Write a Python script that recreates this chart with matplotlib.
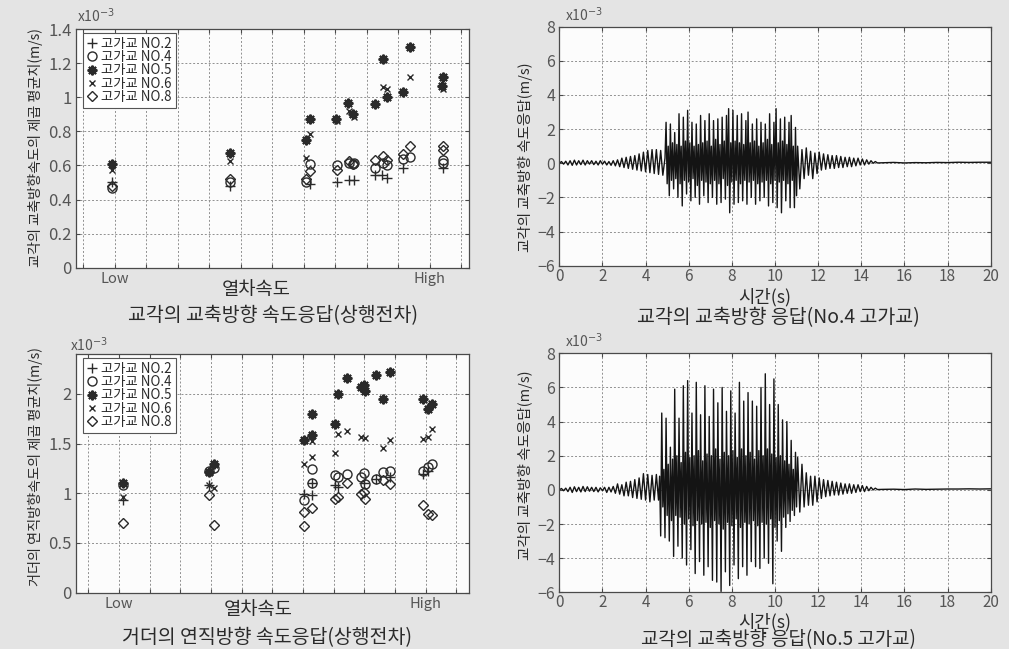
import numpy as np
import matplotlib
matplotlib.use('Agg')
import matplotlib.pyplot as plt

plt.rcParams['font.family'] = ['Noto Sans CJK KR', 'DejaVu Sans']

# ---------------- data ----------------
series_labels = ['고가교 NO.2', '고가교 NO.4', '고가교 NO.5', '고가교 NO.6', '고가교 NO.8']
speed_ticks = list(range(13))
speed_ticklabels = ['', 'Low', '', '', '', '', '', '', '', '', '', 'High', '']

# top-left: pier longitudinal RMS velocity (x1e-3 m/s)
pier_no2_x = [0.9, 4.65, 7.2, 8.04, 8.42, 8.58, 9.25, 9.48, 9.63, 10.15, 11.4]
pier_no2_y = [0.50, 0.478, 0.49, 0.505, 0.514, 0.514, 0.545, 0.543, 0.525, 0.585, 0.585]
pier_no4_x = [0.9, 4.65, 7.06, 7.2, 8.04, 8.42, 8.55, 8.6, 9.25, 9.5, 9.63, 10.15, 10.36, 11.4, 11.42]
pier_no4_y = [0.465, 0.505, 0.505, 0.606, 0.60, 0.615, 0.61, 0.612, 0.585, 0.615, 0.603, 0.64, 0.65, 0.63, 0.615]
pier_no5_x = [0.9, 4.65, 7.06, 7.2, 8.03, 8.4, 8.55, 9.25, 9.51, 9.64, 10.15, 10.36, 11.4, 11.38]
pier_no5_y = [0.607, 0.67, 0.749, 0.87, 0.87, 0.964, 0.901, 0.96, 1.224, 1.003, 1.028, 1.292, 1.12, 1.065]
pier_no6_x = [0.9, 4.65, 7.06, 7.2, 8.04, 8.42, 8.54, 8.6, 9.51, 9.64, 10.36, 11.4]
pier_no6_y = [0.575, 0.627, 0.645, 0.782, 0.862, 0.921, 0.90, 0.885, 1.058, 1.05, 1.116, 1.05]
pier_no8_x = [0.9, 4.65, 7.06, 7.2, 8.04, 8.42, 8.55, 9.25, 9.5, 9.63, 10.15, 10.36, 11.4, 11.4]
pier_no8_y = [0.48, 0.518, 0.52, 0.567, 0.575, 0.625, 0.61, 0.63, 0.655, 0.63, 0.665, 0.713, 0.715, 0.69]

# bottom-left: girder vertical RMS velocity (x1e-3 m/s)
girder_no2_x = [1.14, 3.95, 7.03, 7.28, 7.28, 8.04, 8.15, 8.99, 9.37, 9.82, 10.9, 11.09]
girder_no2_y = [0.93, 1.08, 0.997, 1.104, 0.98, 1.08, 1.06, 1.10, 1.14, 1.16, 1.19, 1.22]
girder_no4_x = [1.14, 3.95, 4.10, 7.03, 7.28, 7.28, 8.04, 8.15, 8.42, 8.88, 8.99, 9.02, 9.37, 9.60, 9.82, 10.9, 11.09, 11.2]
girder_no4_y = [1.087, 1.22, 1.254, 0.93, 1.24, 1.104, 1.18, 1.165, 1.19, 1.164, 1.20, 1.097, 1.147, 1.214, 1.22, 1.224, 1.264, 1.298]
girder_no5_x = [1.14, 3.95, 4.10, 7.03, 7.28, 7.28, 8.04, 8.15, 8.42, 8.88, 8.99, 9.02, 9.37, 9.60, 9.82, 10.9, 11.09, 11.2]
girder_no5_y = [1.107, 1.214, 1.298, 1.532, 1.80, 1.582, 1.70, 2.0, 2.16, 2.067, 2.09, 2.03, 2.184, 1.943, 2.217, 1.95, 1.85, 1.90]
girder_no6_x = [1.14, 3.95, 4.10, 7.03, 7.28, 7.28, 8.04, 8.15, 8.42, 8.88, 9.02, 9.60, 9.82, 10.9, 11.09, 11.2]
girder_no6_y = [0.963, 1.087, 1.054, 1.298, 1.53, 1.365, 1.405, 1.60, 1.63, 1.565, 1.555, 1.455, 1.532, 1.55, 1.565, 1.65]
girder_no8_x = [1.14, 3.95, 4.10, 7.03, 7.03, 7.28, 8.04, 8.15, 8.42, 8.88, 8.99, 9.02, 9.60, 9.82, 10.9, 11.09, 11.2]
girder_no8_y = [0.696, 0.987, 0.679, 0.813, 0.672, 0.853, 0.947, 0.963, 1.107, 0.997, 1.013, 0.946, 1.13, 1.097, 0.88, 0.796, 0.786]

# top-right: No.4 pier response (x1e-3 m/s), read as successive extrema
resp4_a = [0.0, 0.1, -0.05, 0.12, -0.1, 0.15, -0.12, 0.18, -0.1, 0.15,
           -0.08, 0.18, -0.1, 0.15, -0.05, 0.15, -0.08, 0.12, -0.1, 0.15,
           -0.05, 0.12, -0.1, 0.1, -0.12, 0.15, -0.15, 0.2, -0.2, 0.3,
           -0.25, 0.35, -0.3, 0.4, -0.35, 0.45, -0.4, 0.55, -0.45, 0.65,
           -0.5, 0.75, -0.55, 0.8, -0.6, 0.8, -0.65, 0.75, -0.7, 0.3]
resp4_b = [2.4, -1.2, 1.0, -1.9, 2.3, -1.0, 1.2, -1.5, 1.8, -0.9,
           1.1, -2.0, 2.9, -1.2, 1.0, -2.5, 2.7, -1.0, 1.3, -1.8,
           3.1, -1.1, 1.2, -2.2, 2.4, -0.9, 1.0, -2.0, 2.3, -1.3,
           1.1, -2.4, 2.8, -1.0, 1.2, -1.9, 2.5, -1.1, 1.3, -2.3,
           2.9, -1.2, 1.0, -2.0, 2.5, -1.0, 1.4, -2.4, 2.6, -1.2,
           1.1, -2.3, 2.7, -0.9, 1.3, -2.1, 2.8, -1.3, 3.2, -2.9,
           1.2, -1.1, 3.1, -2.4, 1.3, -1.0, 2.8, -2.3, 1.2, -1.2,
           2.9, -2.2, 1.1, -1.0, 2.5, -2.4, 3.0, -1.1, 1.2, -2.0,
           2.3, -1.0, 1.3, -2.4, 2.6, -1.2, 1.0, -2.2, 2.4, -1.1,
           1.2, -2.0, 2.3, -1.0, 1.4, -2.5, 2.9, -1.2, 1.1, -2.3,
           2.4, -1.0, 3.2, -2.6, 1.2, -1.1, 2.6, -2.9, 1.3, -1.0,
           2.7, -2.2, 1.1, -1.2, 2.4, -2.6, 2.8, -1.0, 1.0, -2.6,
           2.1, -1.9]
resp4_c = [1.0, -1.5, 0.8, -0.9, 0.9, -0.7, 0.7, -0.9, 0.6, -0.6,
           0.65, -0.4, 0.55, -0.35, 0.5, -0.3, 0.45, -0.3, 0.45, -0.25,
           0.4, -0.25, 0.35, -0.2, 0.35, -0.2, 0.3, -0.15, 0.3, -0.1,
           0.25, -0.1, 0.2, -0.05, 0.15, 0.0, 0.1, 0.02]
resp4_d = [0.03, 0.05, 0.02, 0.04, 0.03, 0.05, 0.04, 0.06, 0.05, 0.06, 0.06]

# bottom-right: No.5 pier response (x1e-3 m/s)
resp5_a = [0.0, 0.08, -0.05, 0.1, -0.1, 0.15, -0.15, 0.18, -0.1, 0.15,
           -0.12, 0.2, -0.1, 0.18, -0.08, 0.15, -0.1, 0.15, -0.12, 0.12,
           -0.05, 0.15, -0.15, 0.15, -0.12,
           0.2, -0.2, 0.35, -0.25, 0.3, -0.35, 0.45, -0.35, 0.5, -0.45,
           0.6, -0.5, 0.7, -0.55, 0.95, -0.6, 0.9, -0.7, 0.85, -0.6, 0.9, -0.6]
resp5_b = [0.8, -2.7, 4.5, -1.0, 1.2, -2.8, 4.2, -1.5, 1.5, -3.0, 2.5, -1.8,
           1.8, -3.9, 5.9, -1.5, 2.0, -3.3, 4.2, -1.6, 1.6, -4.0, 6.1, -2.0,
           2.2, -4.4, 6.4, -1.7, 1.9, -3.5, 4.5, -2.1, 2.0, -4.9, 6.3, -1.8,
           2.3, -4.2, 4.4, -2.0, 1.7, -5.0, 6.1, -1.9, 2.1, -4.5, 4.3, -2.2,
           2.0, -5.3, 5.9, -1.8, 2.4, -5.4, 5.1, -2.0, 1.8, -5.95, 6.0, -2.3,
           2.2, -4.8, 4.6, -1.9, 2.0, -5.6, 5.8, -2.1, 2.3, -4.4, 4.5, -1.7,
           1.9, -5.2, 6.3, -2.2, 2.4, -4.5, 5.2, -1.9, 2.0, -5.0, 5.7, -2.0,
           2.2, -4.2, 5.2, -1.8, 1.8, -4.5, 4.9, -2.1, 2.3, -4.6, 6.0, -1.9,
           2.0, -4.0, 6.8, -2.0, 2.4, -4.3, 5.0, -1.7, 2.1, -5.5, 6.5, -2.2,
           1.9, -3.0, 5.0, -1.8, 2.0, -3.6, 4.1, -1.6, 1.7, -2.2, 4.0, -1.4,
           1.5, -1.85, 2.9, -1.2, 1.2, -1.5, 2.2, -1.0]
resp5_c = [1.9, -1.3, 1.5, -1.0, 1.0, -0.9, 0.8, -0.9, 0.8, -0.7,
           0.7, -0.5, 0.6, -0.4, 0.55, -0.35, 0.5, -0.3, 0.45, -0.3,
           0.4, -0.25, 0.35, -0.2, 0.35, -0.2, 0.3, -0.15, 0.3, -0.1,
           0.25, -0.1, 0.2, -0.05, 0.15, 0.0, 0.1, 0.02]
resp5_d = [0.03, 0.04, 0.02, 0.05, 0.03, 0.04, 0.05, 0.05, 0.06, 0.05, 0.06]

# sampling of the extrema segments: (start time, step)
seg_timing_4 = [(0.0, 0.1), (4.95, 0.05), (11.05, 0.1), (15.0, 0.5)]
seg_timing_5 = [(0.0, 0.1), (4.65, 0.05), (11.05, 0.1), (15.0, 0.5)]


def build(segs, timing):
    ts, vs = [], []
    for vals, (t0, dt) in zip(segs, timing):
        ts.append(t0 + dt * np.arange(len(vals)))
        vs.append(np.asarray(vals))
    return np.concatenate(ts), np.concatenate(vs)


t4, v4 = build([resp4_a, resp4_b, resp4_c, resp4_d], seg_timing_4)
t5, v5 = build([resp5_a, resp5_b, resp5_c, resp5_d], seg_timing_5)

# ---------------- figure ----------------
W, H = 1009, 649
BG = '#e4e4e4'
INK = '#2a2a2a'
fig = plt.figure(figsize=(W / 100, H / 100), dpi=100, facecolor=BG)


def px_rect(l, t, r, b):
    return [l / W, 1 - b / H, (r - l) / W, (b - t) / H]


def ftext(x, y, s, **kw):
    kw.setdefault('color', INK)
    fig.text(x / W, 1 - y / H, s, **kw)


def style(ax, labelsize):
    ax.set_facecolor('#fcfcfc')
    for sp in ax.spines.values():
        sp.set_color('#4a4a4a')
        sp.set_linewidth(0.9)
    ax.grid(True, color='#909090', linestyle=(0, (2, 2)), linewidth=0.7)
    ax.set_axisbelow(True)
    ax.tick_params(direction='in', length=3, top=True, right=True,
                   colors='#4a4a4a', labelcolor='#555555', labelsize=labelsize, pad=3)


ax_tl = fig.add_axes(px_rect(76, 29, 469, 267.7))
ax_tr = fig.add_axes(px_rect(559.3, 26.7, 990.7, 265.7))
ax_bl = fig.add_axes(px_rect(76, 354, 469.3, 592.7))
ax_br = fig.add_axes(px_rect(559.3, 353.3, 990.7, 592.3))

marker_styles = [
    dict(marker='+', ms=7, mew=1.0),
    dict(marker='o', ms=6.5, mew=1.0, mfc='none'),
    dict(marker=(8, 2, 0), ms=7, mew=1.5),
    dict(marker='x', ms=4.5, mew=1.0),
    dict(marker='D', ms=5.2, mew=1.0, mfc='none'),
]

pier_sets = [(pier_no2_x, pier_no2_y), (pier_no4_x, pier_no4_y), (pier_no5_x, pier_no5_y),
             (pier_no6_x, pier_no6_y), (pier_no8_x, pier_no8_y)]
girder_sets = [(girder_no2_x, girder_no2_y), (girder_no4_x, girder_no4_y), (girder_no5_x, girder_no5_y),
               (girder_no6_x, girder_no6_y), (girder_no8_x, girder_no8_y)]

for ax, sets, xlim, ylim, yticks, yticklabels in [
    (ax_tl, pier_sets, (-0.23, 12.24), (0, 1.4), np.arange(0, 1.41, 0.2),
     ['0', '0.2', '0.4', '0.6', '0.8', '1', '1.2', '1.4']),
    (ax_bl, girder_sets, (-0.4, 12.42), (0, 2.4), [0, 0.5, 1, 1.5, 2],
     ['0', '0.5', '1', '1.5', '2'])]:
    style(ax, 12)
    for (xs, ys), lab, st in zip(sets, series_labels, marker_styles):
        ax.plot(xs, ys, linestyle='none', color=INK, label=lab, **st)
    ax.set_xlim(*xlim)
    ax.set_ylim(*ylim)
    ax.set_xticks(speed_ticks)
    ax.set_xticklabels(speed_ticklabels)
    ax.set_yticks(yticks)
    ax.set_yticklabels(yticklabels)
    ax.tick_params(axis='x', labelsize=10.5, pad=3)
    leg = ax.legend(loc='upper left', bbox_to_anchor=(0.018, 0.985), borderaxespad=0,
                    frameon=True, fancybox=False, edgecolor='#555555', framealpha=1,
                    fontsize=9.6, handlelength=0.8, handletextpad=0.25, labelspacing=-0.05,
                    borderpad=0.3, labelcolor=INK)
    leg.get_frame().set_linewidth(0.8)

for ax, t, v in [(ax_tr, t4, v4), (ax_br, t5, v5)]:
    style(ax, 11.5)
    ax.plot(t, v, color='#141414', linewidth=1.0)
    ax.set_xlim(0, 20)
    ax.set_ylim(-6, 8)
    ax.set_xticks(np.arange(0, 21, 2))
    ax.set_yticks(np.arange(-6, 9, 2))
    ax.tick_params(axis='x', pad=1.5, labelsize=11)

# texts
for (x, y) in [(77, 16), (70, 345), (565, 15), (565, 341)]:
    ftext(x, y, r'x10$^{-3}$', fontsize=10, ha='left', va='center', color='#555555')

ftext(35, 148, '교각의 교축방향속도의 제곱 평균치(m/s)', fontsize=10.2, rotation=90, ha='center', va='center')
ftext(35, 467, '거더의 연직방향속도의 제곱 평균치(m/s)', fontsize=10.2, rotation=90, ha='center', va='center')
ftext(525, 157, '교각의 교축방향 속도응답(m/s)', fontsize=10.5, rotation=90, ha='center', va='center')
ftext(525, 465, '교각의 교축방향 속도응답(m/s)', fontsize=10.5, rotation=90, ha='center', va='center')

ftext(256, 289, '열차속도', fontsize=13.5, ha='center', va='center')
ftext(258, 609, '열차속도', fontsize=13.5, ha='center', va='center')
ftext(765, 297, '시간(s)', fontsize=12.8, ha='center', va='center')
ftext(765, 622, '시간(s)', fontsize=12.8, ha='center', va='center')

ftext(273, 316, '교각의 교축방향 속도응답(상행전차)', fontsize=14, ha='center', va='center')
ftext(267, 638, '거더의 연직방향 속도응답(상행전차)', fontsize=14, ha='center', va='center')
ftext(778, 318, '교각의 교축방향 응답(No.4 고가교)', fontsize=14, ha='center', va='center')
ftext(778, 640, '교각의 교축방향 응답(No.5 고가교)', fontsize=13.6, ha='center', va='center')

fig.savefig('out.png', dpi=100, facecolor=BG)
